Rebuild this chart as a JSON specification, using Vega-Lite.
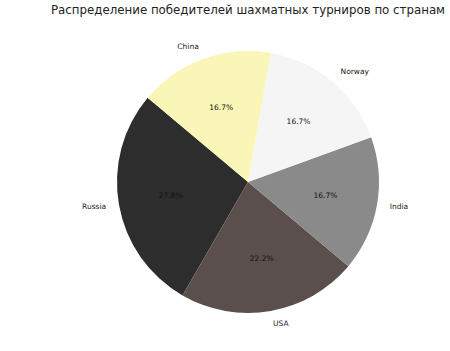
{
  "$schema": "https://vega.github.io/schema/vega-lite/v6.json",
  "autosize": "none",
  "width": 300,
  "height": 300,
  "padding": {"left": 98, "top": 32, "right": 52, "bottom": 19},
  "background": "white",
  "config": {"view": {"stroke": null}, "font": "DejaVu Sans"},
  "title": {
    "text": "Распределение победителей шахматных турниров по странам",
    "fontSize": 11.8,
    "fontWeight": "normal",
    "color": "#222222",
    "font": "DejaVu Sans",
    "offset": 15,
    "anchor": "middle"
  },
  "data": {
    "values": [
      {"country": "Russia", "wins": 5},
      {"country": "USA", "wins": 4},
      {"country": "India", "wins": 3},
      {"country": "Norway", "wins": 3},
      {"country": "China", "wins": 3}
    ]
  },
  "transform": [
    {"window": [{"op": "row_number", "as": "idx"}]},
    {"joinaggregate": [{"op": "sum", "field": "wins", "as": "total"}]},
    {"calculate": "datum.wins / datum.total", "as": "share"}
  ],
  "encoding": {
    "theta": {"field": "wins", "type": "quantitative", "stack": true, "scale": {"range": [-0.872665, 5.410521]}},
    "order": {"field": "idx", "type": "quantitative", "sort": "descending"}
  },
  "layer": [
    {
      "mark": {"type": "arc", "outerRadius": 131, "stroke": null},
      "encoding": {
        "color": {
          "field": "country",
          "type": "nominal",
          "scale": {
            "domain": ["Russia", "USA", "India", "Norway", "China"],
            "range": ["#2e2d2d", "#5a4f4d", "#8a8a8a", "#f5f5f5", "#f9f6b7"]
          },
          "legend": null
        }
      }
    },
    {
      "mark": {"type": "text", "radius": 78.6, "fontSize": 7.5, "color": "#111111", "align": "center", "baseline": "middle"},
      "encoding": {"text": {"field": "share", "type": "quantitative", "format": ".1%"}}
    },
    {
      "mark": {"type": "text", "radius": 144, "fontSize": 7.5, "color": "#222222", "align": "right", "baseline": "middle"},
      "encoding": {
        "text": {"condition": {"test": "datum.country === 'Russia' || datum.country === 'China'", "field": "country"}, "value": ""}
      }
    },
    {
      "mark": {"type": "text", "radius": 144, "fontSize": 7.5, "color": "#222222", "align": "left", "baseline": "middle"},
      "encoding": {
        "text": {"condition": {"test": "datum.country !== 'Russia' && datum.country !== 'China'", "field": "country"}, "value": ""}
      }
    }
  ]
}
